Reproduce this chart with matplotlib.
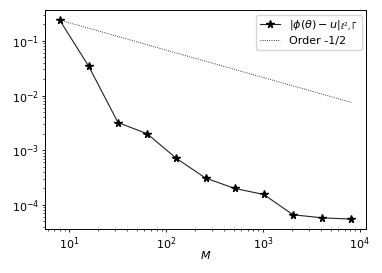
import numpy as np
import matplotlib.pyplot as plt

M = np.array([8, 16, 32, 64, 128, 256, 512, 1024, 2048, 4096, 8192])
err = np.array([0.24, 0.034, 0.0032, 0.0020, 0.00071, 0.00031, 0.00020,
                0.000155, 0.000066, 0.000058, 0.000055])

# reference slope line starting at the first error
ref = err[0] * (M / M[0]) ** -0.5

plt.rcParams['font.size'] = 8
for a in ('xtick', 'ytick'):
    plt.rcParams[a + '.major.size'] = 2.5
    plt.rcParams[a + '.minor.size'] = 1.5
    plt.rcParams[a + '.major.pad'] = 1.8
    plt.rcParams[a + '.minor.pad'] = 1.8
    plt.rcParams[a + '.major.width'] = 0.6
    plt.rcParams[a + '.minor.width'] = 0.5
plt.rcParams['axes.linewidth'] = 0.7

fig, ax = plt.subplots(figsize=(3.82, 2.73), dpi=100)
ax.loglog(M, err, '-*', color='#222222', linewidth=0.8, markersize=5.5,
          markerfacecolor='black', markeredgecolor='black',
          label=r'$|\phi(\theta)-u|_{\ell^2,\Gamma}$')
ax.loglog(M, ref, ':', color='black', linewidth=0.6, label='Order -1/2')
ax.set_xlabel(r'$M$', labelpad=-2)
ax.legend(loc='upper right', fontsize=8, borderaxespad=0.4,
          handlelength=1.8, borderpad=0.35, labelspacing=0.3)
fig.subplots_adjust(left=0.118, right=0.958, top=0.963, bottom=0.161)
plt.savefig("out.png", dpi=100)
plt.close()
